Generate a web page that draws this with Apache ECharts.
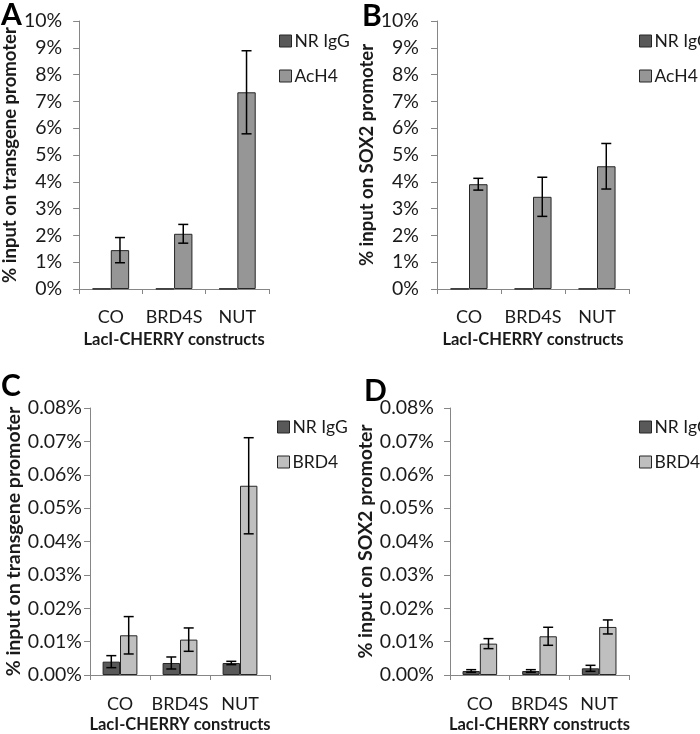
<!DOCTYPE html>
<html><head><meta charset="utf-8">
<script src="https://cdn.jsdelivr.net/npm/echarts@6/dist/echarts.min.js"></script>
<style>html,body{margin:0;padding:0;background:#fff}#c{width:700px;height:734px}</style>
</head><body><div id="c"></div>
<script>
// ---- data ----
const categories = ['CO', 'BRD4S', 'NUT'];
// Panel A: % input on transgene promoter (AcH4)
const A_igg = [0.01, 0.01, 0.01];
const A_igg_err = [0, 0, 0];
const A_ach4 = [1.45, 2.06, 7.34];
const A_ach4_err = [0.47, 0.35, 1.55];
// Panel B: % input on SOX2 promoter (AcH4)
const B_igg = [0.01, 0.01, 0.01];
const B_igg_err = [0, 0, 0];
const B_ach4 = [3.91, 3.44, 4.58];
const B_ach4_err = [0.22, 0.73, 0.85];
// Panel C: % input on transgene promoter (BRD4)
const C_igg = [0.0040, 0.0036, 0.0036];
const C_igg_err = [0.0018, 0.0018, 0.0005];
const C_brd4 = [0.0119, 0.0106, 0.0567];
const C_brd4_err = [0.0056, 0.0035, 0.0144];
// Panel D: % input on SOX2 promoter (BRD4)
const D_igg = [0.0012, 0.0012, 0.0020];
const D_igg_err = [0.0004, 0.0004, 0.0009];
const D_brd4 = [0.0094, 0.0116, 0.0144];
const D_brd4_err = [0.0015, 0.0027, 0.0021];
const topTicks = ['0%','1%','2%','3%','4%','5%','6%','7%','8%','9%','10%'];
const bottomTicks = ['0.00%','0.01%','0.02%','0.03%','0.04%','0.05%','0.06%','0.07%','0.08%'];

// ---- styling ----
const FONT = 'Lato';
const C_IGG = '#595959', C_ACH4 = '#969696', C_BRD4 = '#bfbfbf';
const GAP = 0.42;

const grids = [
  {left: 77, top: 21, width: 192, height: 268},
  {left: 437, top: 21, width: 192, height: 268},
  {left: 90, top: 408, width: 180, height: 267},
  {left: 450, top: 408, width: 179, height: 267}
];
const yNames = ['% input on transgene promoter','% input on SOX2 promoter','% input on transgene promoter','% input on SOX2 promoter'];
const yLabelMargin = [17, 18, 8, 16];
const yNameGap = [50, 49, 63, 63];
const axisLine = {show: true, lineStyle: {color: '#868686', width: 1}};

const xAxes = grids.map((g, i) => ({
  type: 'category', gridIndex: i, data: categories,
  axisLine: axisLine,
  axisTick: {show: true, length: 5, lineStyle: {color: '#868686'}},
  axisLabel: {color: '#1a1a1a', fontFamily: FONT, fontSize: 18, margin: i < 2 ? 19 : 20, interval: 0},
  name: 'LacI-CHERRY constructs', nameLocation: 'middle', nameGap: i < 2 ? 42 : 41,
  nameTextStyle: {color: '#1a1a1a', fontFamily: FONT, fontSize: 16.5, fontWeight: 'bold'}
}));
const yAxes = grids.map((g, i) => {
  const top = i < 2;
  return {
    type: 'value', gridIndex: i, min: 0, max: top ? 10 : 0.08, interval: top ? 1 : 0.01,
    axisLine: axisLine,
    axisTick: {show: true, length: 6, lineStyle: {color: '#868686'}},
    splitLine: {show: false},
    axisLabel: {color: '#1a1a1a', fontFamily: FONT, fontSize: 19.5, margin: yLabelMargin[i],
      formatter: top ? (v => topTicks[Math.round(v)]) : (v => bottomTicks[Math.round(v * 100)])},
    name: yNames[i], nameLocation: 'middle', nameRotate: 90, nameGap: yNameGap[i],
    nameTextStyle: {color: '#1a1a1a', fontFamily: FONT, fontSize: top ? 18.5 : 19.5, fontWeight: 'bold'}
  };
});

const barStyle = c => ({color: c, borderColor: '#262626', borderWidth: 1});
function barSeries(name, data, color, i) {
  return {type: 'bar', name: name, xAxisIndex: i, yAxisIndex: i, data: data,
    barCategoryGap: (GAP * 100) + '%', barGap: '0%', itemStyle: barStyle(color), silent: true};
}
function errSeries(vals, errs, idx, i) {
  return {
    type: 'custom', xAxisIndex: i, yAxisIndex: i, silent: true, z: 5,
    data: vals.map((v, k) => [k, v, errs[k]]),
    renderItem: function (params, api) {
      const k = api.value(0), v = api.value(1), e = api.value(2);
      if (!e) return null;
      const bandW = api.size([1, 0])[0];
      const bw = bandW * (1 - GAP) / 2;
      const off = (idx === 0 ? -bw / 2 : bw / 2);
      const p1 = api.coord([k, v + e]);
      const p2 = api.coord([k, v - e]);
      const x = p1[0] + off, cap = 5;
      const st = {stroke: '#000', lineWidth: 1.5};
      return {type: 'group', children: [
        {type: 'line', shape: {x1: x, y1: p1[1], x2: x, y2: p2[1]}, style: st},
        {type: 'line', shape: {x1: x - cap, y1: p1[1], x2: x + cap, y2: p1[1]}, style: st},
        {type: 'line', shape: {x1: x - cap, y1: p2[1], x2: x + cap, y2: p2[1]}, style: st}
      ]};
    }
  };
}

const series = [
  barSeries('NR IgG', A_igg, C_IGG, 0), barSeries('AcH4', A_ach4, C_ACH4, 0),
  errSeries(A_igg, A_igg_err, 0, 0), errSeries(A_ach4, A_ach4_err, 1, 0),
  barSeries('NR IgG', B_igg, C_IGG, 1), barSeries('AcH4', B_ach4, C_ACH4, 1),
  errSeries(B_igg, B_igg_err, 0, 1), errSeries(B_ach4, B_ach4_err, 1, 1),
  barSeries('NR IgG', C_igg, C_IGG, 2), barSeries('BRD4', C_brd4, C_BRD4, 2),
  errSeries(C_igg, C_igg_err, 0, 2), errSeries(C_brd4, C_brd4_err, 1, 2),
  barSeries('NR IgG', D_igg, C_IGG, 3), barSeries('BRD4', D_brd4, C_BRD4, 3),
  errSeries(D_igg, D_igg_err, 0, 3), errSeries(D_brd4, D_brd4_err, 1, 3)
];

function legend(left, top, names) {
  return {left: left, top: top, orient: 'vertical', data: names, itemWidth: 12, itemHeight: 12,
    itemGap: 17, icon: 'rect', selectedMode: false,
    itemStyle: {borderColor: '#262626', borderWidth: 1},
    textStyle: {color: '#1a1a1a', fontFamily: FONT, fontSize: 17.5, padding: [0, 0, 0, -2]}};
}

const letter = (t, x, y) => ({type: 'text', left: x, top: y,
  style: {text: t, font: 'bold 30px ' + FONT, fill: '#000'}});

const option = {
  animation: false,
  grid: grids,
  xAxis: xAxes,
  yAxis: yAxes,
  series: series,
  legend: [
    legend(274, 27, ['NR IgG', 'AcH4']),
    legend(634, 27, ['NR IgG', 'AcH4']),
    legend(272, 413, ['NR IgG', 'BRD4']),
    legend(634, 413, ['NR IgG', 'BRD4'])
  ],
  graphic: [letter('A', 1, 0), letter('B', 362, 1), letter('C', 1, 371), letter('D', 364, 376)]
};
const chart = echarts.init(document.getElementById('c'), null, {renderer: 'canvas'});
chart.setOption(option);
</script></body></html>
